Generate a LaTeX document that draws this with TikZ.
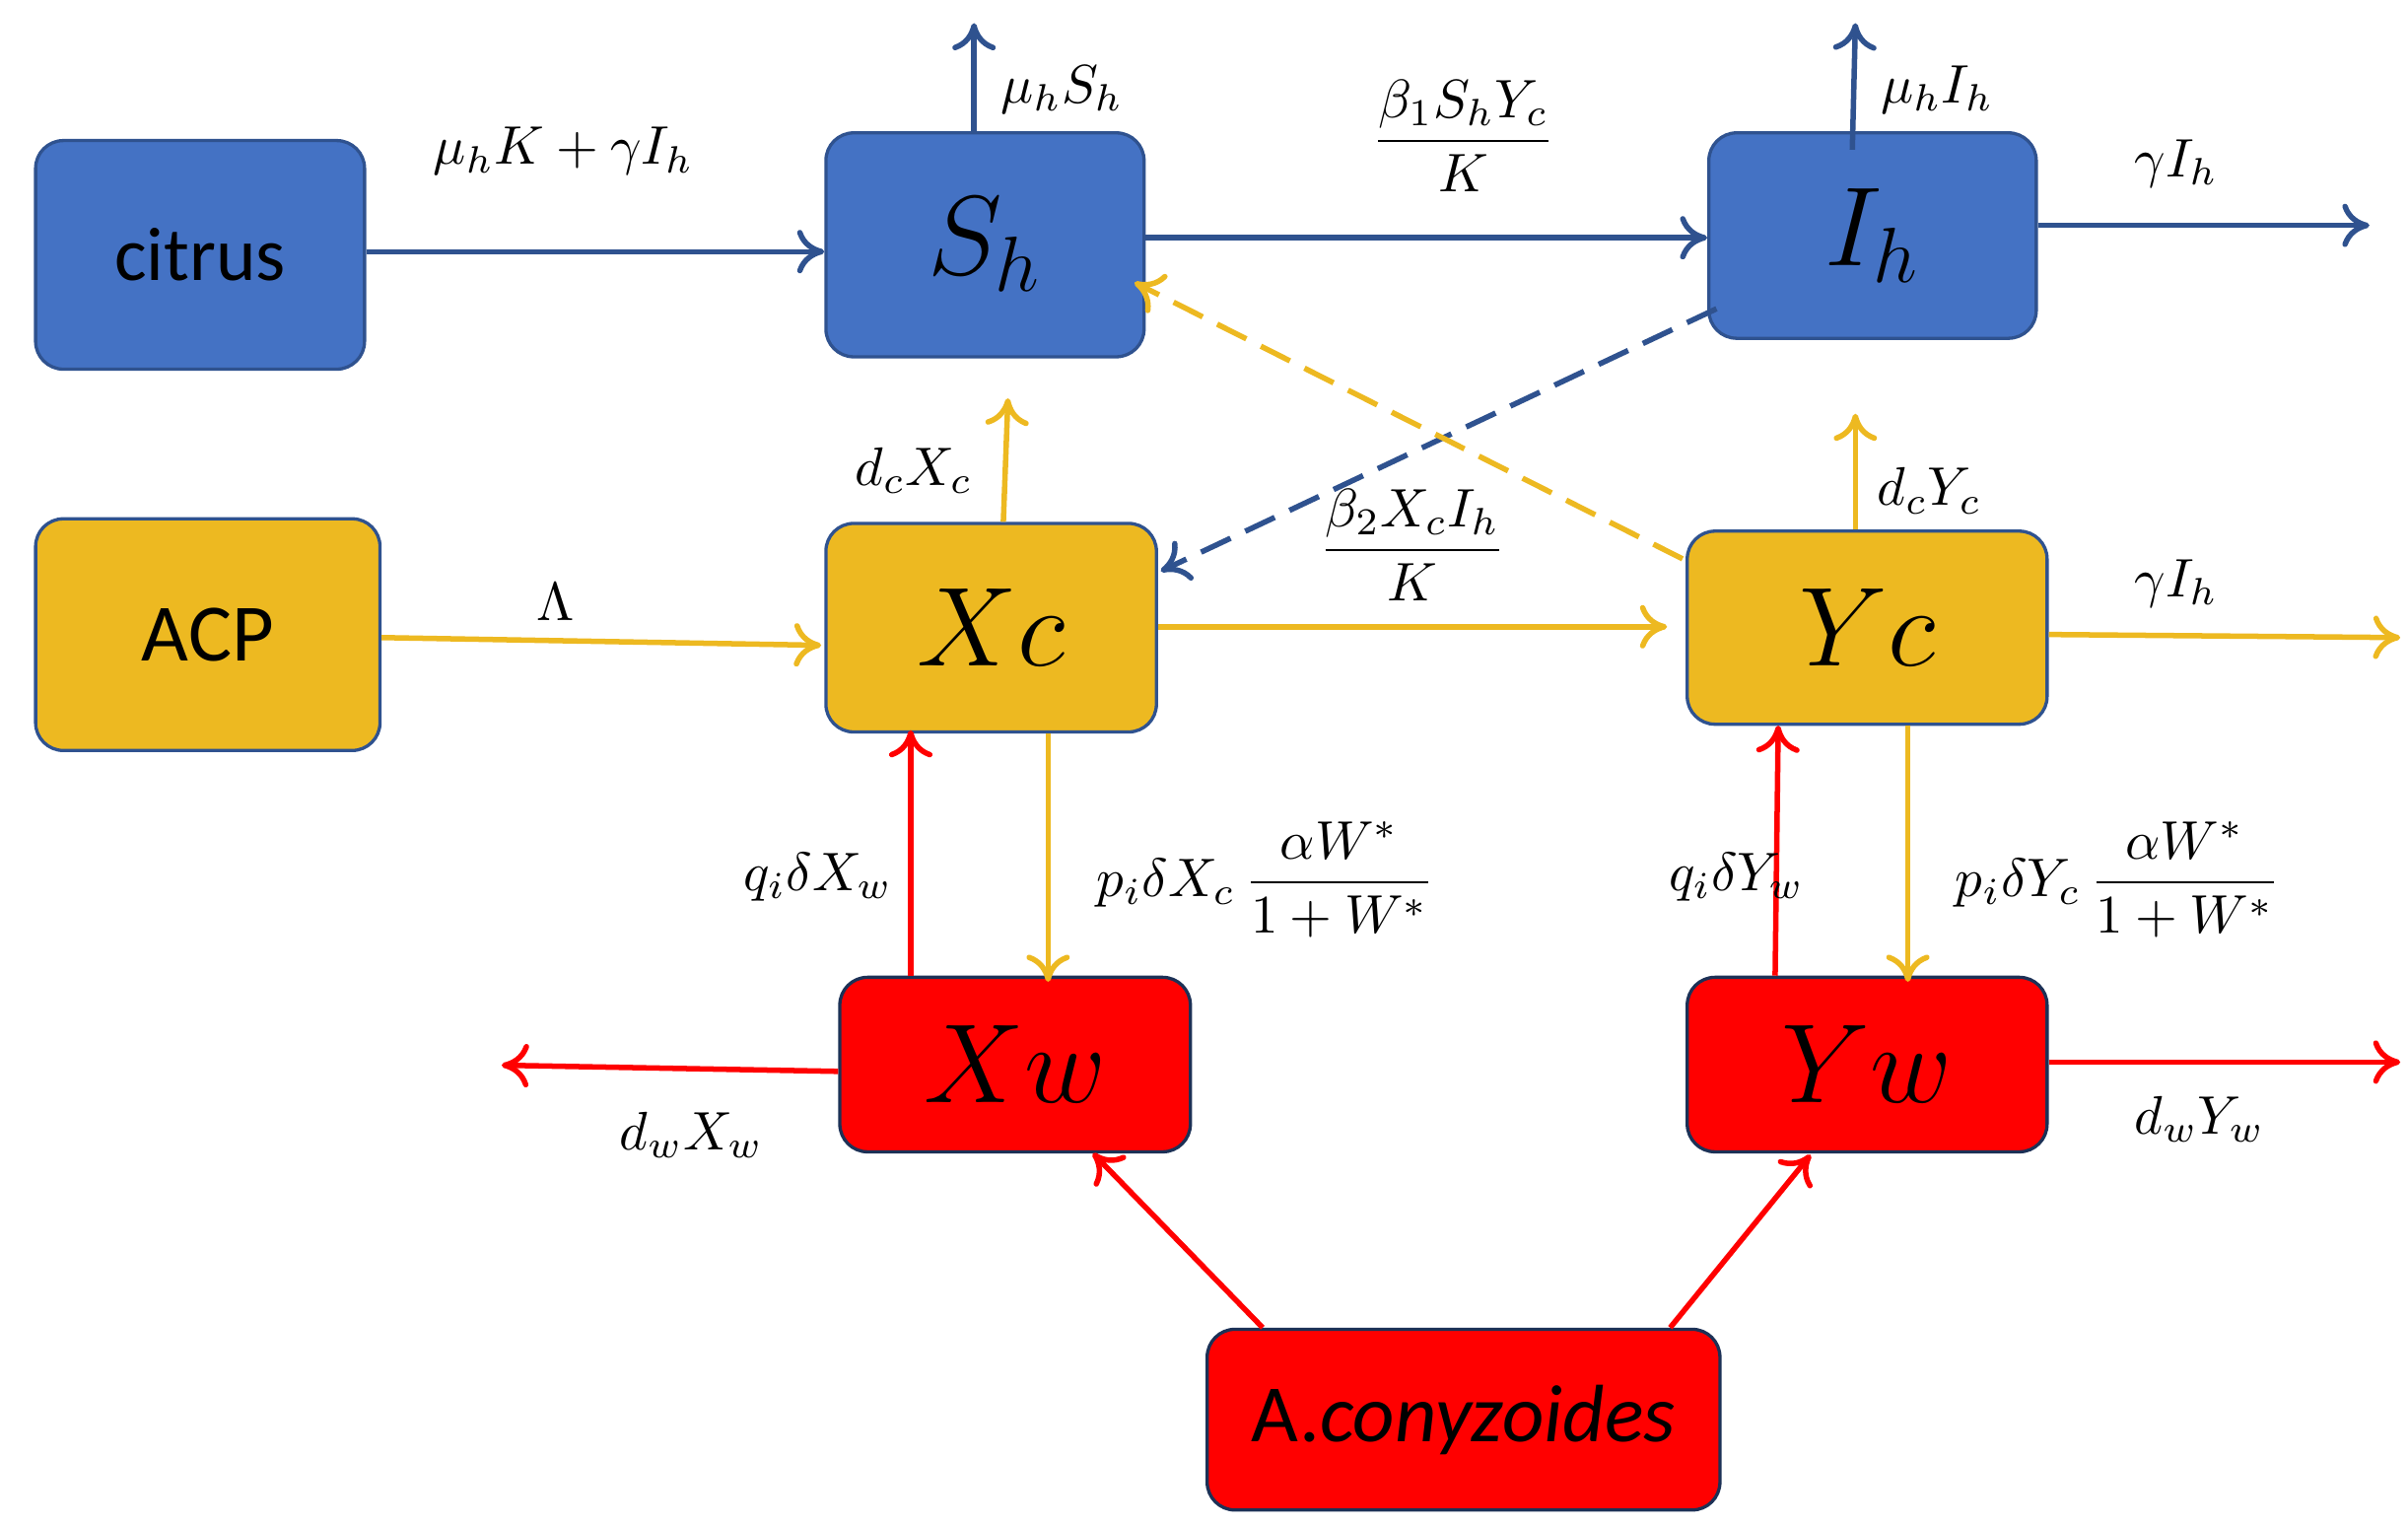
\documentclass[tikz,border=0pt]{standalone}
\usepackage{amsmath}
\usepackage{fontspec}
\newfontfamily\calfam{Carlito}
\usetikzlibrary{arrows.meta}
\definecolor{bl}{HTML}{4472C4}
\definecolor{bld}{HTML}{2F528F}
\definecolor{gd}{HTML}{EDB921}
\definecolor{rd}{HTML}{FF0000}
\begin{document}
\begin{tikzpicture}[x=0.01cm,y=-0.01cm,
 box/.style={draw=bld,line width=0.6pt,rounded corners=0.18cm,inner sep=0,anchor=north west},
 blu/.style={box,fill=bl},gol/.style={box,fill=gd},red/.style={box,fill=rd,draw=bld!60!black},
 big/.style={font=\fontsize{20}{24}\selectfont},
 lab/.style={font=\fontsize{10}{12}\selectfont},
 ba/.style={draw=bld,line width=1pt,-{To[length=5pt,width=8pt]}},
 ga/.style={draw=gd,line width=1pt,-{To[length=5pt,width=8pt]}},
 ra/.style={draw=rd,line width=1pt,-{To[length=5pt,width=8pt]}}]
\useasboundingbox (0,0) rectangle (1560,988);
\node[blu,minimum width=2.13cm,minimum height=1.48cm] (citrus) at (22,90) {};
\node[font=\calfam\fontsize{14}{16}\selectfont] at (citrus.center) {citrus};
\node[blu,minimum width=2.06cm,minimum height=1.45cm] (Sh) at (534,85) {};
\node[big] at (Sh.center) {$S_h$};
\node[blu,minimum width=2.12cm,minimum height=1.33cm] (Ih) at (1106,85) {};
\node[big] at (Ih.center) {$I_h$};
\node[gol,minimum width=2.23cm,minimum height=1.5cm] (ACP) at (22,335) {};
\node[font=\calfam\fontsize{15}{17}\selectfont] at (ACP.center) {ACP};
\node[gol,minimum width=2.14cm,minimum height=1.35cm] (Xc) at (534,338) {};
\node[big] at (Xc.center) {$Xc$};
\node[gol,minimum width=2.33cm,minimum height=1.25cm] (Yc) at (1092,343) {};
\node[big] at (Yc.center) {$Yc$};
\node[red,minimum width=2.27cm,minimum height=1.13cm] (Xw) at (543,632) {};
\node[big] at (Xw.center) {$Xw$};
\node[red,minimum width=2.33cm,minimum height=1.13cm] (Yw) at (1092,632) {};
\node[big] at (Yw.center) {$Yw$};
\node[red,minimum width=3.32cm,minimum height=1.17cm] (A) at (781,860) {};
\node[font=\calfam\fontsize{15}{17}\selectfont] at (A.center) {A.\textit{conyzoides}};
% coordinates
\coordinate (shu) at (631,15); \coordinate (ihu) at (1202,15);
\coordinate (ihr) at (1535,146); \coordinate (xcu) at (653,258);
\coordinate (ycu) at (1202,268); \coordinate (ycr) at (1555,413);
\coordinate (xwl) at (325,690); \coordinate (ywr) at (1555,688);
% arrows
\draw[ba] (citrus.east|-0,163) -- (Sh.west|-0,163);
\draw[ba] (Sh.east|-0,154) -- (Ih.west|-0,154);
\draw[ba] (631,85) -- (shu);
\draw[ba] (1200,97) -- (ihu);
\draw[ba] (Ih.east|-0,146) -- (ihr);
\draw[ba,dashed,dash pattern=on 6pt off 3pt] (1112,200) -- (752,370);
\draw[ga,dashed,dash pattern=on 6pt off 3pt] (1090,362) -- (735,183);
\draw[ga] (650,338) -- (xcu);
\draw[ga] (ACP.east|-0,413) -- (532,418);
\draw[ga] (Xc.east|-0,406) -- (1080,406);
\draw[ga] (1202,343) -- (ycu);
\draw[ga] (Yc.east|-0,411) -- (ycr);
\draw[ra] (590,632) -- (590,473);
\draw[ga] (679,475) -- (679,636);
\draw[ra] (1150,632) -- (1152,470);
\draw[ga] (1236,470) -- (1236,636);
\draw[ra] (Xw.west|-0,694) -- (xwl);
\draw[ra] (Yw.east|-0,688) -- (ywr);
\draw[ra] (818,860) -- (708,747);
\draw[ra] (1082,860) -- (1173,748);
% labels
\begin{scope}[every node/.style={lab}]
\node at (365,98) {$\mu_h K+\gamma I_h$};
\node at (948,88) {$\dfrac{\beta_1 S_h Y_c}{K}$};
\node at (688,58) {$\mu_h S_h$};
\node at (1255,58) {$\mu_h I_h$};
\node at (1410,106) {$\gamma I_h$};
\node at (592,305) {$d_c X_c$};
\node at (360,390) {$\Lambda$};
\node at (915,353) {$\dfrac{\beta_2 X_c I_h}{K}$};
\node at (1250,318) {$d_c Y_c$};
\node at (1410,378) {$\gamma I_h$};
\node at (530,568) {$q_i\delta X_w$};
\node at (820,570) {$p_i\delta X_c\,\dfrac{\alpha W^*}{1+W^*}$};
\node at (1125,568) {$q_i\delta Y_w$};
\node at (1372,570) {$p_i\delta Y_c\,\dfrac{\alpha W^*}{1+W^*}$};
\node at (448,735) {$d_w X_w$};
\node at (1425,725) {$d_w Y_w$};
\end{scope}
\end{tikzpicture}
\end{document}
